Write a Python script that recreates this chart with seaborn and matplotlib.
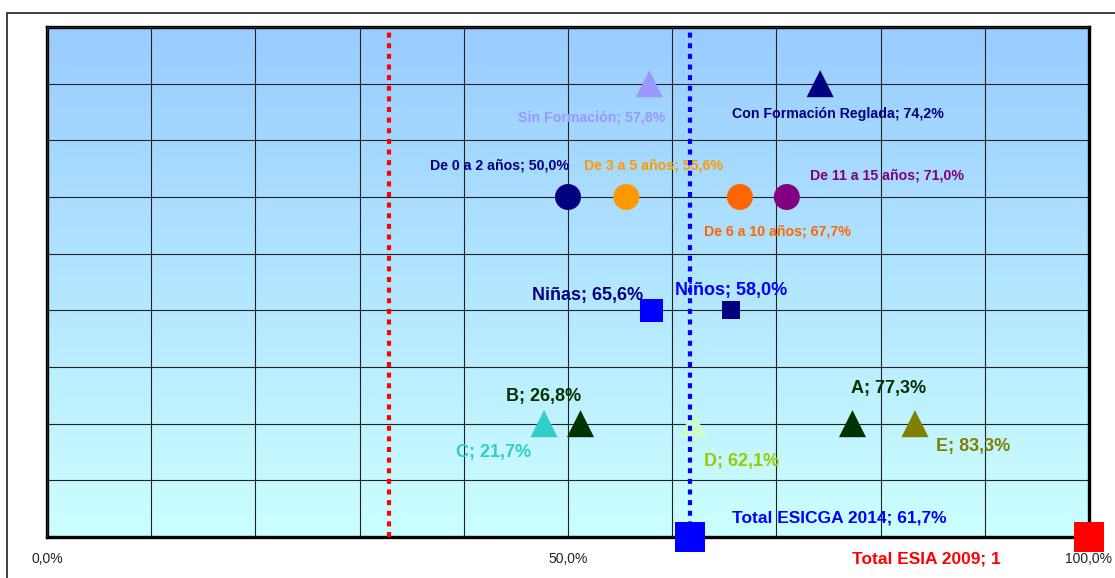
import numpy as np
import pandas as pd
import matplotlib
matplotlib.use('Agg')
import matplotlib.pyplot as plt
import seaborn as sns
from matplotlib.colors import LinearSegmentedColormap
from matplotlib.patches import Rectangle

# datos
series = ['Sin Formación', 'Con Formación Reglada', 'De 0 a 2 años', 'De 3 a 5 años',
          'De 6 a 10 años', 'De 11 a 15 años', 'Niñas', 'Niños', 'C', 'B', 'D', 'A', 'E',
          'Total ESICGA 2014', 'Total ESIA 2009']
x_pct = [57.8, 74.2, 50.0, 55.6, 66.5, 71.0, 58.0, 65.6, 47.7, 51.2, 62.0, 77.3, 83.3, 61.7, 100.0]
y_fila = [8, 8, 6, 6, 6, 6, 4, 4, 2, 2, 2, 2, 2, 0, 0]
etiquetas = ['Sin Formación; 57,8%', 'Con Formación Reglada; 74,2%', 'De 0 a 2 años; 50,0%',
             'De 3 a 5 años; 55,6%', 'De 6 a 10 años; 67,7%', 'De 11 a 15 años; 71,0%',
             'Niñas; 65,6%', 'Niños; 58,0%', 'C; 21,7%', 'B; 26,8%', 'D; 62,1%', 'A; 77,3%',
             'E; 83,3%', 'Total ESICGA 2014; 61,7%', 'Total ESIA 2009; 1']
linea_roja = 32.8
linea_azul = 61.7
ticks_x = [0, 50, 100]
ticks_x_txt = ['0,0%', '50,0%', '100,0%']

# estilos
colores = ['#9999FF', '#000080', '#000080', '#FF9900', '#FF6600', '#800080', '#0000FF', '#000080',
           '#33CCCC', '#003300', '#CCFFCC', '#003300', '#808000', '#0000FF', '#FF0000']
colores_txt = ['#9999FF', '#000080', '#000080', '#FF9900', '#FF6600', '#800080', '#000080', '#0000FF',
               '#33CCCC', '#003300', '#99CC00', '#003300', '#808000', '#0000FF', '#FF0000']
marcadores = ['^', '^', 'o', 'o', 'o', 'o', 's', 's', '^', '^', '^', '^', '^', 's', 's']
tamanos = [19.5, 19.5, 18.7, 18.7, 18.7, 18.7, 16.5, 13, 19.5, 19.5, 19.5, 19.5, 19.5, 22, 21.6]
# desplazamientos de las etiquetas en pixeles (x, y hacia arriba)
offs = [(-58, -34), (18, -30), (-69, 32), (27, 32), (38, -35), (100, 22), (-64, 15), (1, 20),
        (-50, -29), (-37, 27), (49, -38), (36, 35), (58, -23), (149, 19), (-163, -22)]
tam_txt = [10.2, 10.2, 10.2, 10.2, 10.2, 10.2, 13, 13, 13, 13, 13, 13, 13, 12.5, 12.5]

sns.set_theme(style='white')
plt.rcParams['font.family'] = ['Liberation Sans', 'DejaVu Sans']

df = pd.DataFrame({'serie': series, 'x': x_pct, 'y': y_fila})

fig = plt.figure(figsize=(11.15, 5.78), dpi=100)
ax = fig.add_axes([47 / 1115, 1 - 537 / 578, 1042 / 1115, 510 / 578])

# fondo degradado
cmap_fondo = LinearSegmentedColormap.from_list('fondo', ['#CCFFFF', '#99CCFF'])
grad = np.linspace(0, 1, 256).reshape(-1, 1)
ax.imshow(grad, extent=[0, 100, 0, 9], origin='lower', aspect='auto', cmap=cmap_fondo, zorder=0)

sns.scatterplot(data=df, x='x', y='y', hue='serie', style='serie', size='serie',
                palette=dict(zip(series, colores)), markers=dict(zip(series, marcadores)),
                sizes=dict(zip(series, [t ** 2 for t in tamanos])),
                linewidth=0, legend=False, ax=ax, zorder=3)
for c in ax.collections:
    c.set_clip_on(False)

for i in range(len(series)):
    ax.annotate(etiquetas[i], (x_pct[i], y_fila[i]), xytext=offs[i], textcoords='offset pixels',
                ha='center', va='center', color=colores_txt[i], fontsize=tam_txt[i],
                fontweight='bold', zorder=4, annotation_clip=False)

ax.axvline(linea_roja, color='#FF0000', lw=3, linestyle=(0, (1.2, 1.35)), zorder=5)
ax.axvline(linea_azul, color='#0000FF', lw=3, linestyle=(0, (1.2, 1.35)), zorder=5)

ax.set_xlim(0, 100)
ax.set_ylim(0, 9)
ax.set_xticks(ticks_x)
ax.set_xticklabels(ticks_x_txt, fontsize=10, color='#222222')
ax.set_xticks(np.arange(0, 101, 10), minor=True)
ax.set_yticks(np.arange(0, 10, 1))
ax.set_yticklabels([])
ax.tick_params(axis='both', which='both', length=0)
ax.tick_params(axis='x', pad=11)
ax.grid(True, which='both', color='#222222', lw=0.8, zorder=1)
ax.set_axisbelow(False)
for l in ax.get_xgridlines() + ax.get_ygridlines():
    l.set_zorder(1)
ax.set_xlabel('')
ax.set_ylabel('')
for s in ax.spines.values():
    s.set_color('black')
    s.set_linewidth(2.4)
    s.set_zorder(2)

# borde exterior del area del grafico
fig.add_artist(Rectangle((7 / 1115, -0.1), 1.2, 0.1 + 1 - 13 / 578, fill=False,
                         ec='#404040', lw=1.4, transform=fig.transFigure))

fig.savefig('out.png', dpi=100)
